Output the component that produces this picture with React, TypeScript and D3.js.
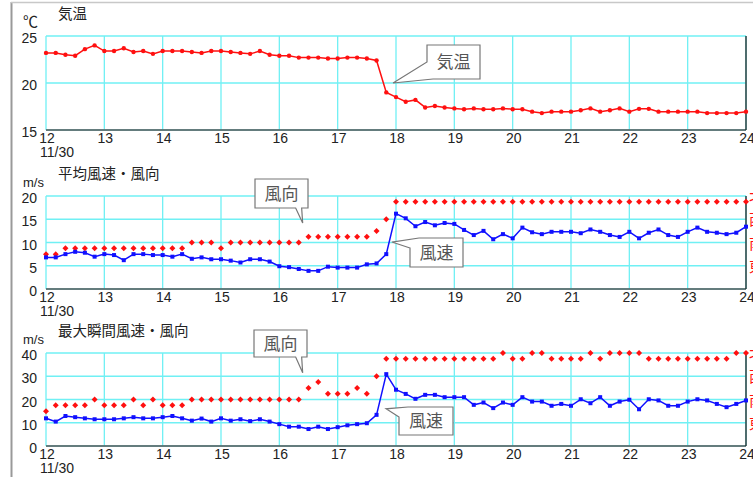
import React from "react";
import * as d3 from "d3";

// ---- data (10-minute values, 12:00 .. 24:00 on 11/30) ----
const HOUR_TICKS = [12, 13, 14, 15, 16, 17, 18, 19, 20, 21, 22, 23, 24];
const DATE_LABEL = "11/30";
const STEPS_PER_HOUR = 6;

const TEMPERATURE = [
  23.2, 23.2, 23.0, 22.9, 23.6, 24.0,
  23.4, 23.4, 23.7, 23.3, 23.4, 23.1,
  23.4, 23.4, 23.4, 23.3, 23.2, 23.4,
  23.4, 23.3, 23.2, 23.1, 23.4, 23.0,
  22.9, 22.9, 22.7, 22.7, 22.7, 22.6,
  22.6, 22.7, 22.7, 22.6, 22.4, 19.0,
  18.5, 18.0, 18.2, 17.4, 17.55, 17.4,
  17.3, 17.2, 17.3, 17.2, 17.2, 17.3,
  17.2, 17.2, 16.95, 16.8, 16.95, 16.95,
  16.95, 17.1, 17.3, 16.95, 17.1, 17.3,
  16.95, 17.25, 17.25, 16.95, 16.95, 16.95,
  16.95, 16.95, 16.8, 16.8, 16.8, 16.8,
  16.95,
];

const MEAN_SPEED = [
  6.8, 6.8, 7.5, 8.0, 7.8, 6.95,
  7.5, 7.3, 6.2, 7.5, 7.5, 7.3,
  7.3, 6.95, 7.5, 6.5, 6.8, 6.4,
  6.4, 6.1, 5.7, 6.4, 6.4, 5.9,
  4.9, 4.7, 4.3, 3.9, 3.9, 4.8,
  4.6, 4.6, 4.6, 5.3, 5.5, 7.5,
  16.2, 15.2, 13.5, 14.4, 13.7, 14.2,
  14.0, 12.7, 11.6, 12.5, 10.7, 11.8,
  10.9, 13.2, 12.2, 11.8, 12.3, 12.3,
  12.3, 12.0, 12.8, 12.3, 11.6, 11.2,
  12.3, 10.9, 12.1, 12.8, 11.6, 11.2,
  12.3, 13.2, 12.3, 12.1, 11.8, 12.1,
  13.4,
];

// wind direction as 16-point compass index (4 = 東, 8 = 南, 12 = 西, 16 = 北)
const MEAN_DIR = [
  6, 6, 7, 7, 7, 7,
  7, 7, 7, 7, 7, 7,
  7, 7, 7, 8, 8, 8,
  7, 8, 8, 8, 8, 8,
  8, 8, 8, 9, 9, 9,
  9, 9, 9, 9, 10, 12,
  15, 15, 15, 15, 15, 15,
  15, 15, 15, 15, 15, 15,
  15, 15, 15, 15, 15, 15,
  15, 15, 15, 15, 15, 15,
  15, 15, 15, 15, 15, 15,
  15, 15, 15, 15, 15, 15,
  15,
];

const GUST_SPEED = [
  11.9, 10.5, 12.9, 12.4, 11.9, 11.5,
  11.5, 11.5, 11.9, 12.4, 11.9, 11.9,
  12.4, 12.9, 11.9, 10.9, 11.8, 10.5,
  11.9, 10.9, 11.5, 10.7, 11.5, 10.5,
  9.4, 8.3, 8.3, 7.3, 8.3, 7.3,
  8.1, 8.9, 9.4, 9.8, 13.4, 30.9,
  24.2, 22.4, 20.3, 22.0, 22.0, 21.0,
  21.0, 21.0, 17.7, 18.7, 16.3, 18.7,
  17.7, 21.0, 19.1, 19.1, 17.3, 18.1,
  17.3, 20.1, 18.4, 21.0, 17.3, 19.1,
  19.9, 15.8, 20.1, 19.6, 17.3, 17.3,
  19.1, 20.1, 19.6, 18.1, 16.7, 18.1,
  19.6,
];

const GUST_DIR = [
  6, 7, 7, 7, 7, 8,
  7, 7, 7, 8, 7, 8,
  7, 7, 7, 8, 8, 8,
  8, 8, 8, 8, 8, 8,
  8, 8, 8, 10, 11, 9,
  9, 9, 10, 9, 12, 15,
  15, 15, 15, 15, 15, 15,
  15, 15, 15, 15, 15, 16,
  15, 15, 16, 16, 15, 15,
  15, 15, 16, 15, 16, 16,
  16, 16, 15, 15, 15, 15,
  15, 15, 15, 15, 15, 16,
  16,
];

const TEMP_TICKS = [15, 20, 25];
const MEAN_TICKS = [0, 5, 10, 15, 20];
const GUST_TICKS = [0, 10, 20, 30, 40];
const DIR_TICKS = [4, 8, 12, 16];
const DIR_LABELS = ["東", "南", "西", "北"];

// ---- styling ----
const RED = "#ff1010";
const BLUE = "#1010ff";
const GRID = "#70f0f4";
const NUM_FONT = "'Liberation Sans', Arial, sans-serif";
const JP_FONT = "'Noto Sans CJK JP', sans-serif";

const W = 753;
const H = 477;

const x = d3.scaleLinear().domain([12, 24]).range([46, 746]);
const timeOf = (i: number) => 12 + i / STEPS_PER_HOUR;

type Panel = {
  top: number;
  bottom: number;
  domain: [number, number];
  ticks: number[];
  unit: string;
  title: string;
};

const diamond = (cx: number, cy: number, r: number) =>
  `M${cx},${cy - r}L${cx + r},${cy}L${cx},${cy + r}L${cx - r},${cy}Z`;

function Frame({ p, children }: { p: Panel; children?: React.ReactNode }) {
  const y = d3.scaleLinear().domain(p.domain).range([p.bottom, p.top]);
  return (
    <g>
      {HOUR_TICKS.map((h) => (
        <line key={"v" + h} x1={x(h)} x2={x(h)} y1={p.top} y2={p.bottom} stroke={GRID} strokeWidth={1.3} />
      ))}
      {p.ticks.map((t) => (
        <line key={"h" + t} x1={x(12)} x2={x(24)} y1={y(t)} y2={y(t)} stroke={GRID} strokeWidth={1.3} />
      ))}
      <line x1={x(12)} x2={x(24)} y1={p.bottom} y2={p.bottom} stroke="#555" strokeWidth={1.3} />
      <line x1={x(24)} x2={x(24)} y1={p.top} y2={p.bottom} stroke="#222" strokeWidth={1.3} />
      {p.ticks.map((t) => (
        <text key={"yl" + t} x={37} y={y(t) + 7} textAnchor="end" fontSize={14} fontFamily={NUM_FONT} fill="#222">
          {t}
        </text>
      ))}
      {HOUR_TICKS.map((h) => (
        <text key={"xl" + h} x={x(h) + 1} y={p.bottom + 13} textAnchor="middle" fontSize={14} fontFamily={NUM_FONT} fill="#222">
          {h}
        </text>
      ))}
      <text x={40} y={p.bottom + 27} fontSize={14} fontFamily={NUM_FONT} fill="#222">
        {DATE_LABEL}
      </text>
      <text x={23} y={p.top - 9} fontSize={p.unit === "℃" ? 15 : 13} fontFamily={p.unit === "℃" ? JP_FONT : NUM_FONT} fill="#222">
        {p.unit}
      </text>
      <text x={58} y={p.top - 17} fontSize={14.5} fontFamily={JP_FONT} fill="#222">
        {p.title}
      </text>
      {children}
    </g>
  );
}

function Callout({
  box,
  tip,
  wedge,
  label,
}: {
  box: [number, number, number, number];
  tip: [number, number];
  wedge: string;
  label: string;
}) {
  const [l, t, r, b] = box;
  let d = "";
  if (wedge === "bottom") {
    d = `M${l},${t}H${r}V${b}H${tip[0] - 1}L${tip[0]},${tip[1]}L${tip[0] - 7},${b}H${l}Z`;
  } else if (wedge === "leftDown") {
    d = `M${l},${t}H${r}V${b}H${l + 6}L${tip[0]},${tip[1]}L${l},${t + 17}Z`;
  } else {
    d = `M${l},${t + 10}L${tip[0]},${tip[1]}L${l + 9},${t}H${r}V${b}H${l}Z`;
  }
  return (
    <g>
      <path d={d} fill="#fff" stroke="#777" strokeWidth={1.2} />
      <text x={(l + r) / 2} y={(t + b) / 2 + 6} textAnchor="middle" fontSize={17} fontFamily={JP_FONT} fill="#555">
        {label}
      </text>
    </g>
  );
}

export default function App() {
  const pTemp: Panel = { top: 36, bottom: 130, domain: [15, 25], ticks: TEMP_TICKS, unit: "℃", title: "気温" };
  const pMean: Panel = { top: 196, bottom: 289, domain: [0, 20], ticks: MEAN_TICKS, unit: "m/s", title: "平均風速・風向" };
  const pGust: Panel = { top: 353, bottom: 446, domain: [0, 40], ticks: GUST_TICKS, unit: "m/s", title: "最大瞬間風速・風向" };

  const yT = d3.scaleLinear().domain(pTemp.domain).range([pTemp.bottom, pTemp.top]);
  const yM = d3.scaleLinear().domain(pMean.domain).range([pMean.bottom, pMean.top]);
  const yMD = d3.scaleLinear().domain([0, 16]).range([pMean.bottom, pMean.top]);
  const yG = d3.scaleLinear().domain(pGust.domain).range([pGust.bottom, pGust.top]);
  const yGD = d3.scaleLinear().domain([0, 16]).range([pGust.bottom, pGust.top]);

  const lineOf = (ys: d3.ScaleLinear<number, number>) =>
    d3
      .line<number>()
      .x((_, i) => x(timeOf(i)))
      .y((v) => ys(v));

  const dirLabels = (yd: d3.ScaleLinear<number, number>) =>
    DIR_TICKS.map((t, i) => (
      <text key={"d" + t} x={749} y={yd(t) + 6} fontSize={15} fontFamily={JP_FONT} fill={RED}>
        {DIR_LABELS[i]}
      </text>
    ));

  return (
    <svg
      width={W}
      height={H}
      viewBox={`0 0 ${W} ${H}`}
      style={{ position: "absolute", left: 0, top: 0, background: "#fff" }}
    >
      <rect x={0} y={0} width={W} height={H} fill="#fff" />
      {/* window frame */}
      <line x1={11.5} x2={11.5} y1={2} y2={H} stroke="#999" strokeWidth={2} />
      <line x1={11} x2={W} y1={2.5} y2={2.5} stroke="#c8c8c8" strokeWidth={1.5} />

      {/* temperature */}
      <Frame p={pTemp}>
        <path d={lineOf(yT)(TEMPERATURE) || ""} fill="none" stroke={RED} strokeWidth={1.5} />
        {TEMPERATURE.map((v, i) => (
          <circle key={i} cx={x(timeOf(i))} cy={yT(v)} r={2.2} fill={RED} />
        ))}
        <Callout box={[427, 45, 480, 79]} tip={[x(17.95), yT(20)]} wedge="leftDown" label="気温" />
      </Frame>

      {/* mean wind */}
      <Frame p={pMean}>
        {MEAN_DIR.map((v, i) => (
          <path key={"md" + i} d={diamond(x(timeOf(i)), yMD(v), 3)} fill={RED} />
        ))}
        <path d={lineOf(yM)(MEAN_SPEED) || ""} fill="none" stroke={BLUE} strokeWidth={1.5} />
        {MEAN_SPEED.map((v, i) => (
          <rect key={"ms" + i} x={x(timeOf(i)) - 2} y={yM(v) - 2} width={4} height={4} fill={BLUE} />
        ))}
        {dirLabels(yMD)}
        <Callout box={[255, 179, 308, 208]} tip={[x(16.4), yMD(11.35)]} wedge="bottom" label="風向" />
        <Callout box={[410, 238, 463, 267]} tip={[x(17.93), yM(10.1)]} wedge="leftUp" label="風速" />
      </Frame>

      {/* gust wind */}
      <Frame p={pGust}>
        {GUST_DIR.map((v, i) => (
          <path key={"gd" + i} d={diamond(x(timeOf(i)), yGD(v), 3)} fill={RED} />
        ))}
        <path d={lineOf(yG)(GUST_SPEED) || ""} fill="none" stroke={BLUE} strokeWidth={1.5} />
        {GUST_SPEED.map((v, i) => (
          <rect key={"gs" + i} x={x(timeOf(i)) - 2} y={yG(v) - 2} width={4} height={4} fill={BLUE} />
        ))}
        {dirLabels(yGD)}
        <Callout box={[254, 330, 307, 357]} tip={[x(16.4), yGD(12.6)]} wedge="bottom" label="風向" />
        <Callout box={[399, 407, 453, 435]} tip={[x(17.83), yG(16)]} wedge="leftUp" label="風速" />
      </Frame>
    </svg>
  );
}
